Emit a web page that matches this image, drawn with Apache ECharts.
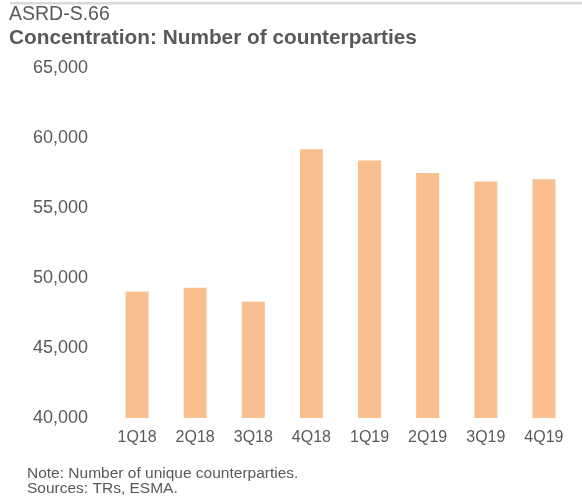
<!DOCTYPE html>
<html>
<head>
<meta charset="utf-8">
<script src="https://cdn.jsdelivr.net/npm/echarts@6/dist/echarts.min.js"></script>
<style>
html, body { margin: 0; padding: 0; background: #fff; }
#chart { width: 582px; height: 503px; }
</style>
</head>
<body>
<div id="chart"></div>
<script>
var categories = ['1Q18', '2Q18', '3Q18', '4Q18', '1Q19', '2Q19', '3Q19', '4Q19'];
var counterparties = [49030, 49300, 48300, 59200, 58400, 57500, 56900, 57050];
var yTicks = [40000, 45000, 50000, 55000, 60000, 65000];

var myChart = echarts.init(document.getElementById('chart'));
var txt = '#595959';
var font = 'Liberation Sans, Arial, sans-serif';

option = {
    backgroundColor: '#fff',
    textStyle: { fontFamily: font },
    graphic: [
        { type: 'rect', left: 10, top: 2, shape: { width: 572, height: 2.5 }, style: { fill: '#d9d9d9' } },
        { type: 'text', left: 9, top: 5, style: { text: 'ASRD-S.66', fill: txt, font: '19.5px ' + font } },
        { type: 'text', left: 9, top: 28, style: { text: 'Concentration: Number of counterparties', fill: txt, font: 'bold 20.8px ' + font } },
        { type: 'text', left: 27, top: 466, style: { text: 'Note: Number of unique counterparties.', fill: txt, font: '15.5px ' + font } },
        { type: 'text', left: 27, top: 481, style: { text: 'Sources: TRs, ESMA.', fill: txt, font: '15.5px ' + font } }
    ],
    grid: { left: 108, right: 9, top: 68, bottom: 85 },
    xAxis: {
        type: 'category',
        data: categories,
        axisLine: { show: false },
        axisTick: { show: false },
        axisLabel: { color: txt, fontSize: 16, margin: 12, fontFamily: font }
    },
    yAxis: {
        type: 'value',
        min: yTicks[0],
        max: yTicks[yTicks.length - 1],
        interval: 5000,
        splitLine: { show: false },
        axisLine: { show: false },
        axisTick: { show: false },
        axisLabel: {
            color: txt, fontSize: 18, margin: 20, fontFamily: font,
            formatter: function (v) { return v.toLocaleString('en-US'); }
        }
    },
    series: [{
        type: 'bar',
        data: counterparties,
        barWidth: 23,
        itemStyle: { color: '#f9bf8f' }
    }]
};

myChart.setOption(option);
</script>
</body>
</html>
